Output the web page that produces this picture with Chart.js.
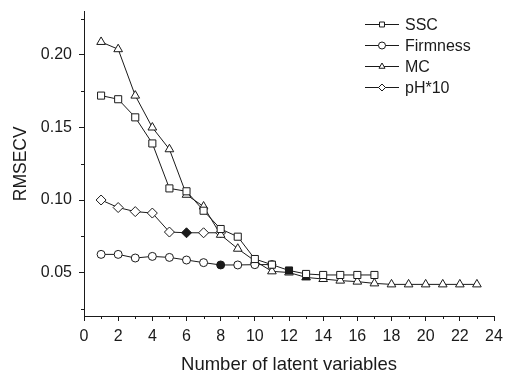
<!DOCTYPE html>
<html>
<head>
<meta charset="utf-8">
<script src="https://cdn.jsdelivr.net/npm/chart.js@4/dist/chart.umd.min.js"></script>
<style>
html,body{margin:0;padding:0;background:#fff;}
#wrap{width:507px;height:372px;position:relative;}
</style>
</head>
<body>
<div id="wrap"><canvas id="c" width="507" height="372"></canvas></div>
<script>
// ---- data ----
const latentVariables = [1,2,3,4,5,6,7,8,9,10,11,12,13,14,15,16,17,18,19,20,21,22,23];
const sscValues      = [0.172,0.1695,0.157,0.139,0.108,0.106,0.0926,0.080,0.0747,0.0593,0.0554,0.0514,0.049,0.0483,0.0483,0.0483,0.0483];
const firmnessValues = [0.0625,0.0625,0.060,0.0611,0.0604,0.0586,0.0568,0.0552,0.0552,0.0554,0.0555];
const mcValues       = [0.209,0.204,0.172,0.150,0.135,0.1036,0.0955,0.076,0.0664,0.058,0.0508,0.050,0.0466,0.0455,0.0444,0.0437,0.0425,0.0418,0.0418,0.0418,0.0418,0.0418,0.0418];
const phValues       = [0.100,0.0948,0.092,0.091,0.0779,0.0774,0.0774,0.0774];
const seriesLabels   = ['SSC','Firmness','MC','pH*10'];
const optimalLV      = [12, 8, 13, 6];   // filled markers
const xTicks = [0,2,4,6,8,10,12,14,16,18,20,22,24];
const yTicks = [0.05,0.10,0.15,0.20];
const xMinorTicks = [1,3,5,7,9,11,13,15,17,19,21,23];
const yMinorTicks = [0.025,0.075,0.125,0.175,0.225];

const FONT = "'Liberation Sans', Arial, Helvetica, sans-serif";
const INK = '#1a1a1a';
const styles = [
  {pointStyle:'rect', radius:5},
  {pointStyle:'circle', radius:4},
  {pointStyle:'triangle', radius:5},
  {pointStyle:'rectRot', radius:5}
];
const allValues = [sscValues, firmnessValues, mcValues, phValues];

const datasets = allValues.map((vals, i) => ({
  label: seriesLabels[i],
  data: vals.map((v, k) => ({x: latentVariables[k], y: v})),
  borderColor: INK,
  borderWidth: 1,
  tension: 0,
  fill: false,
  pointStyle: styles[i].pointStyle,
  pointRadius: styles[i].radius,
  pointHoverRadius: styles[i].radius,
  pointBorderColor: INK,
  pointBorderWidth: 1,
  pointBackgroundColor: ctx => (ctx.raw && ctx.raw.x === optimalLV[i]) ? INK : '#fff'
}));

function drawMarker(ctx, style, x, y, r) {
  ctx.beginPath();
  if (style === 'rect') {
    const s = Math.SQRT1_2 * r;
    ctx.rect(x - s, y - s, 2*s, 2*s);
  } else if (style === 'circle') {
    ctx.arc(x, y, r, 0, Math.PI*2);
  } else if (style === 'triangle') {
    let a = 0;
    ctx.moveTo(x + Math.sin(a)*r, y - Math.cos(a)*r);
    a += 2*Math.PI/3;
    ctx.lineTo(x + Math.sin(a)*r, y - Math.cos(a)*r);
    a += 2*Math.PI/3;
    ctx.lineTo(x + Math.sin(a)*r, y - Math.cos(a)*r);
    ctx.closePath();
  } else if (style === 'rectRot') {
    ctx.moveTo(x - r, y); ctx.lineTo(x, y - r); ctx.lineTo(x + r, y); ctx.lineTo(x, y + r);
    ctx.closePath();
  }
  ctx.fillStyle = '#fff';
  ctx.fill();
  ctx.stroke();
}

const extras = {
  id: 'extras',
  afterDraw(chart) {
    const ctx = chart.ctx;
    const xs = chart.scales.x, ys = chart.scales.y;
    const ca = chart.chartArea;
    ctx.save();
    ctx.strokeStyle = INK;
    ctx.lineWidth = 1;
    // minor ticks
    ctx.beginPath();
    xMinorTicks.forEach(v => {
      const px = Math.round(xs.getPixelForValue(v)) + 0.5;
      ctx.moveTo(px, ca.bottom); ctx.lineTo(px, ca.bottom + 3);
    });
    yMinorTicks.forEach(v => {
      const py = Math.round(ys.getPixelForValue(v)) + 0.5;
      ctx.moveTo(ca.left, py); ctx.lineTo(ca.left - 3, py);
    });
    ctx.stroke();
    // legend
    const lx0 = ca.right - 129, lx1 = ca.right - 95, tx = ca.right - 89;
    const rowY0 = ca.top + 12, rowH = 21;
    ctx.font = '16px ' + FONT;
    ctx.textBaseline = 'middle';
    ctx.textAlign = 'left';
    seriesLabels.forEach((lab, i) => {
      const y = Math.round(rowY0 + i*rowH) + 0.5;
      ctx.beginPath();
      ctx.moveTo(lx0, y); ctx.lineTo(lx1, y);
      ctx.stroke();
      drawMarker(ctx, styles[i].pointStyle, (lx0+lx1)/2, y, 3.5);
      ctx.fillStyle = INK;
      ctx.fillText(lab, tx, y + 1);
    });
    ctx.restore();
  }
};

new Chart(document.getElementById('c'), {
  type: 'line',
  data: { datasets },
  options: {
    responsive: false,
    animation: false,
    events: [],
    layout: { padding: { top: 11.5, right: 13, left: 0, bottom: 0 } },
    plugins: { legend: { display: false }, tooltip: { enabled: false } },
    scales: {
      x: {
        type: 'linear', min: 0, max: 24,
        afterBuildTicks: s => { s.ticks = xTicks.map(v => ({value: v})); },
        afterFit: s => { s.height = 56; s.paddingLeft = 0; s.paddingRight = 0; },
        grid: { drawOnChartArea: false, drawTicks: true, tickLength: 5, color: INK, lineWidth: 1 },
        border: { color: INK, width: 1 },
        ticks: { font: { family: FONT, size: 16 }, color: INK, padding: 6, maxRotation: 0, autoSkip: false },
        title: { display: true, text: 'Number of latent variables', font: { family: FONT, size: 18.5 }, color: INK, padding: { top: 0, bottom: -4 } }
      },
      y: {
        type: 'linear', min: 0.02, max: 0.23,
        afterBuildTicks: s => { s.ticks = yTicks.map(v => ({value: v})); },
        afterFit: s => { s.width = 84; s.paddingTop = 0; s.paddingBottom = 0; },
        grid: { drawOnChartArea: false, drawTicks: true, tickLength: 5, color: INK, lineWidth: 1 },
        border: { color: INK, width: 1 },
        ticks: { font: { family: FONT, size: 16 }, color: INK, padding: 7, callback: v => v.toFixed(2) },
        title: { display: true, text: 'RMSECV', font: { family: FONT, size: 17.5 }, color: INK, padding: { top: 11, bottom: 0 } }
      }
    }
  },
  plugins: [extras]
});
</script>
</body>
</html>
